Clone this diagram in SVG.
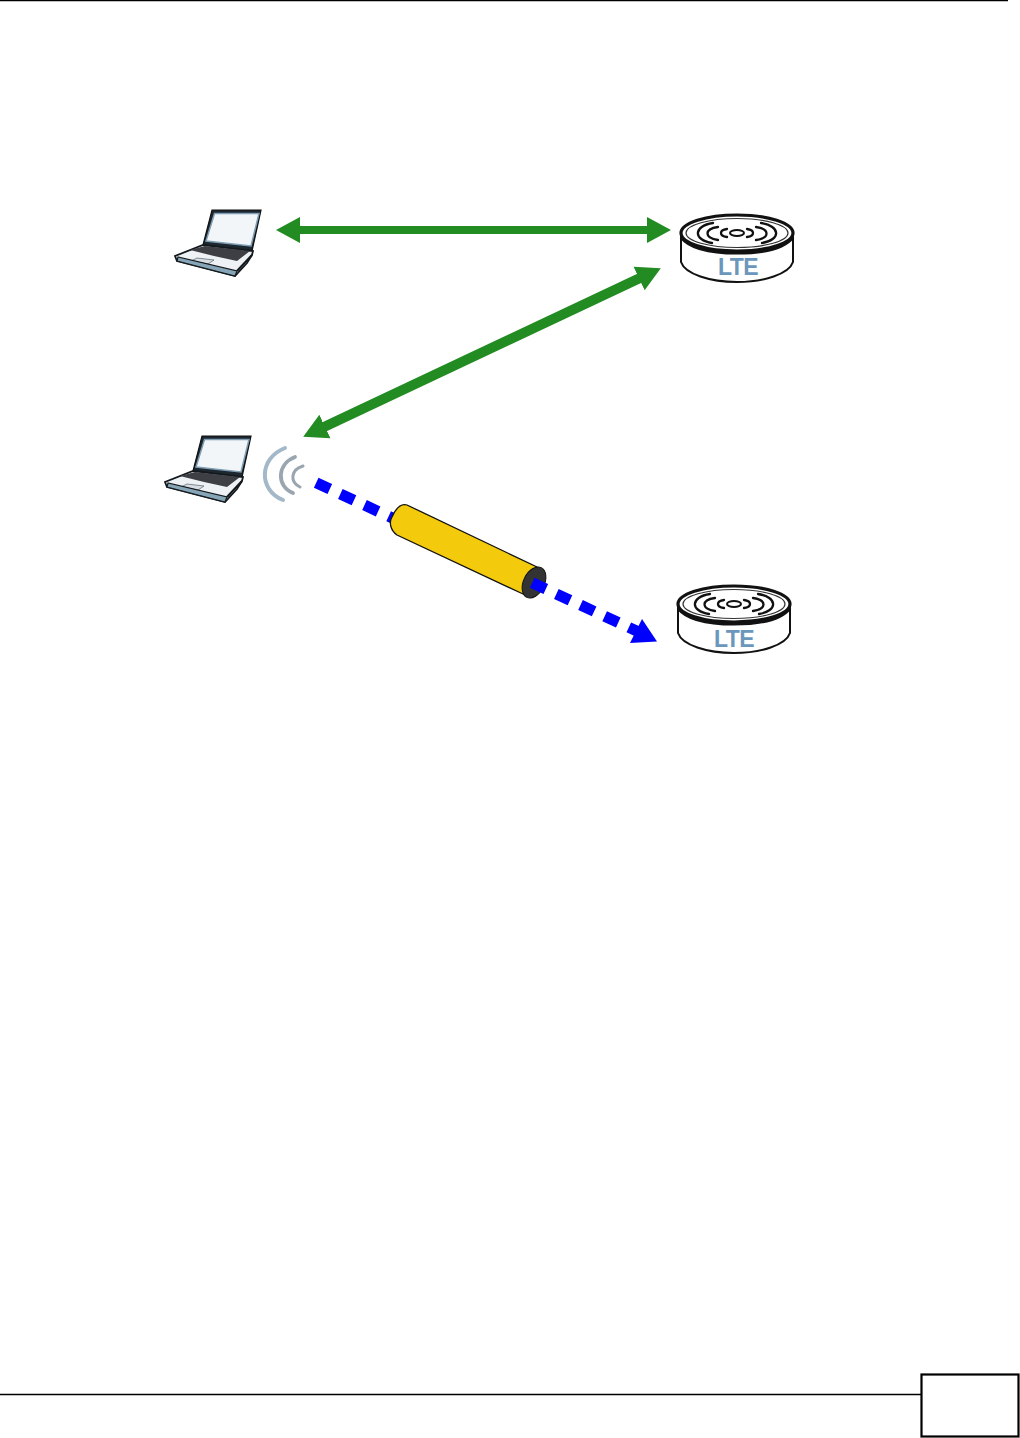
<svg xmlns="http://www.w3.org/2000/svg" width="1020" height="1438" viewBox="0 0 1020 1438">
<style>
.rule{stroke:#000;stroke-width:1.3;fill:none}
.green{stroke:#228b22;fill:none;marker-start:url(#gh);marker-end:url(#gh)}
.blue{stroke:#0000ff;stroke-width:11;fill:none;stroke-dasharray:15 11.600}
.ink{fill:none;stroke:#111;stroke-linecap:round}
.wave{fill:none;stroke-linecap:round}
.lte{font-family:"Liberation Sans",Arial,sans-serif;font-size:23px;font-weight:bold;fill:#6c97bd;text-anchor:middle;letter-spacing:-.6px}
</style>
<defs>
<marker id="gh" markerUnits="userSpaceOnUse" markerWidth="26" markerHeight="28" refX="1" refY="14" orient="auto-start-reverse"><path d="M0,1 L24,14 L0,27z" fill="#228b22"/></marker>
<g id="laptop">
<path d="M212,210 L261,210 L252,251 L203,245z" fill="#1d2730" stroke="#111" stroke-width="1.200"/>
<path d="M214.500,213.500 L259,213.500 L251,246 L206,241z" fill="#f3f6f9" stroke="#7f9db3" stroke-width="1.500"/>
<path d="M203,245 L253,251 L252,255 L247,263 L235,276 L177,261 L175,256z" fill="#eef2f4" stroke="#14191d" stroke-width="1.800"/>
<path d="M190,250 L205,246 L250,251 L237,261 L214,256z" fill="#3d3f44"/>
<path d="M197,258 L214,260 L208,264 L191,261z" fill="#d7dde1" stroke="#55626b" stroke-width=".7"/>
<path d="M177,261 L235,276 L237,271 L178,257z" fill="#86a6b8" stroke="#14191d" stroke-width="1.200"/>
<path d="M237,271 L252,255" stroke="#14191d" stroke-width="2.200" fill="none"/>
</g>
<g id="ltebase">
<path d="M681,233 L681,262 C685,274 710,282 737,282 C764,282 789,274 793,262 L793,233" fill="#fff" stroke="#111" stroke-width="2"/>
<ellipse cx="737" cy="233" rx="56" ry="18" fill="#fff" stroke="#111" stroke-width="3.200"/>
<path d="M681,237 C690,249 712,253 737,253 C762,253 784,249 793,237" fill="none" stroke="#111" stroke-width="3.200"/>
<ellipse cx="737" cy="233" rx="51" ry="14.500" fill="none" stroke="#333" stroke-width="1.200"/>
<ellipse cx="737" cy="233" rx="7" ry="3" fill="none" stroke="#111" stroke-width="2"/>
<path class="ink" stroke-width="2.300" d="M727,229 C719,230 719,236 727,237 M747,229 C755,230 755,236 747,237 M718,227 C704,229 704,238 718,240 M756,227 C770,229 770,238 756,240 M713,223 C693,226 693,240 712,243 M761,223 C781,226 781,240 762,243"/>
</g>
</defs>
<rect width="1020" height="1438" fill="#fff"/>
<g id="page-frame">
<line class="rule" x1="0" y1="0.500" x2="1008" y2="0.500"/>
<line class="rule" x1="0" y1="1394.500" x2="921" y2="1394.500"/>
<rect x="921.500" y="1374.500" width="97" height="62" fill="#fff" stroke="#000" stroke-width="2.200"/>
</g>
<g id="laptop-top"><use href="#laptop"/></g>
<g id="lte-top"><use href="#ltebase"/><text class="lte" x="738" y="275">LTE</text></g>
<g id="laptop-bottom"><use href="#laptop" transform="translate(-10 226)"/></g>
<g id="wifi-waves">
<path class="wave" stroke="#a3b8c9" stroke-width="4" d="M285,448 C259,458 258,490 283,500"/>
<path class="wave" stroke="#9aa6af" stroke-width="3.800" d="M295,457 C277,464 276,486 293,493"/>
<path class="wave" stroke="#9aa6af" stroke-width="3" d="M303,466 C290,470 290,482 300,487"/>
</g>
<g id="lte-bottom"><use href="#ltebase" transform="translate(-3 371)"/><text class="lte" x="734" y="647">LTE</text></g>
<g id="connectors">
<line class="green" stroke-width="8" x1="299" y1="230" x2="648" y2="230"/>
<line class="green" stroke-width="10" x1="324" y1="427" x2="640" y2="278"/>
<path class="blue" d="M316.200,482.800 L400,521.500"/>
</g>
<g id="tunnel">
<path d="M407,505 L537,567 L523,594 L397,535 C390,530 389,522 392,517 C396,508 401,503 407,505z" fill="#f4cb0c" stroke="#111" stroke-width="1.300"/>
<ellipse cx="534" cy="582.500" rx="16.500" ry="10.500" transform="rotate(-64 534 582.500)" fill="#333" stroke="#111" stroke-width="1"/>
</g>
<g id="connector-tail">
<path class="blue" d="M532.200,582.800 L641,633"/>
<path d="M642,619 L657,641.500 L630,643z" fill="#0000ff"/>
</g>
</svg>
